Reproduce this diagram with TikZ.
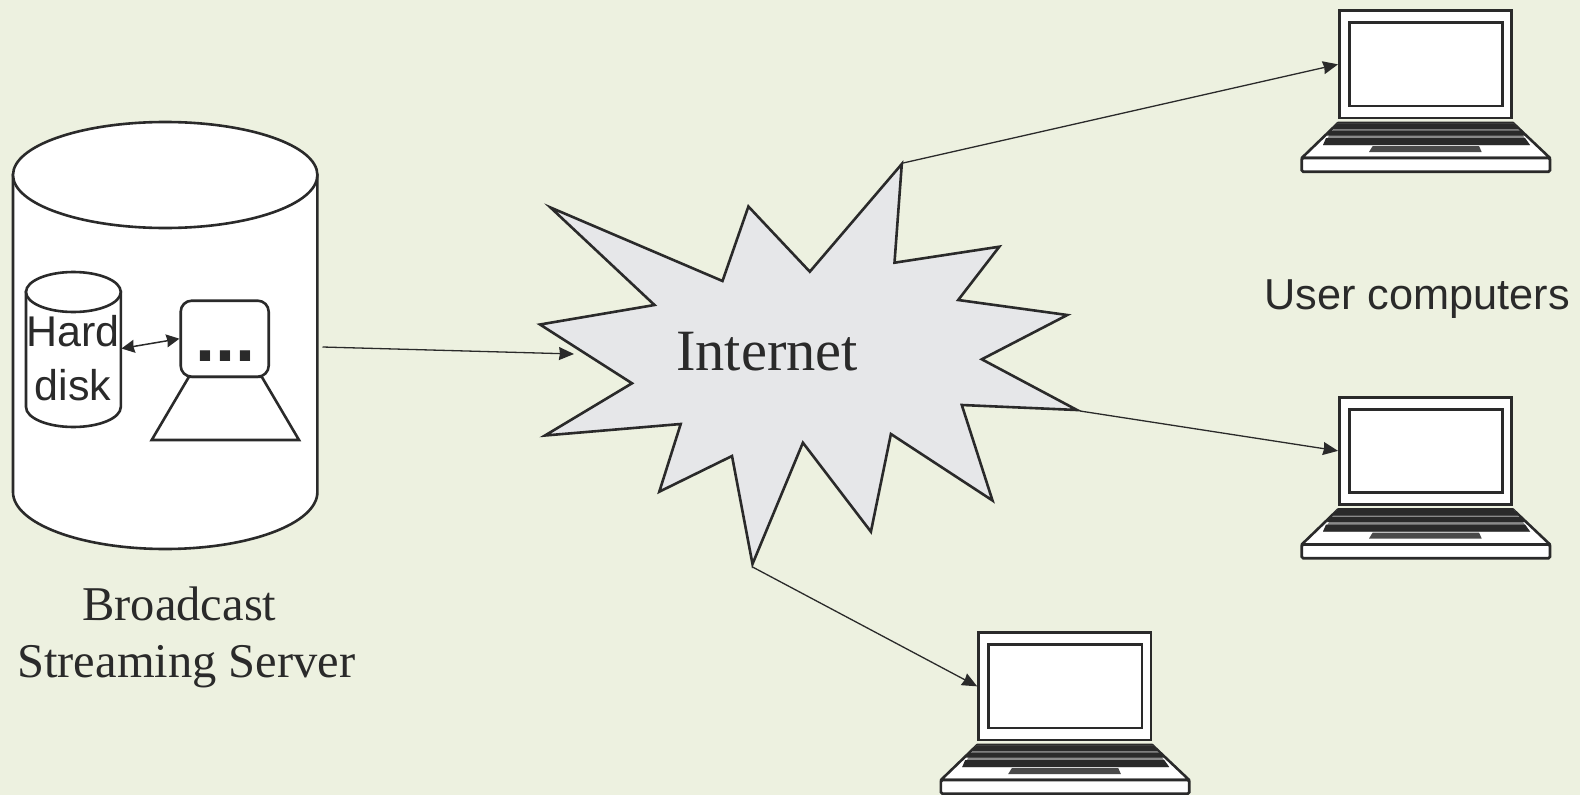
\documentclass[tikz,border=0pt]{standalone}
\usepackage{fontspec}
\setmainfont{Liberation Serif}
\newfontfamily\arialfont{Liberation Sans}
\usetikzlibrary{arrows.meta}
\definecolor{bgcol}{HTML}{EDF1E0}
\definecolor{inkcol}{HTML}{2A2A2A}
\definecolor{starcol}{HTML}{E6E7E9}
\tikzset{
  shapeline/.style={draw=inkcol,line width=2.6pt,line join=miter,miter limit=6},
  thinarrow/.style={draw=inkcol,line width=1.3pt,-{Stealth[length=15pt,width=13pt,inset=1pt]}},
  bothways/.style={draw=inkcol,line width=1.5pt,{Stealth[length=13pt,width=13pt,inset=1pt]}-{Stealth[length=13pt,width=13pt,inset=1pt]}},
  serif/.style={inner sep=0pt,anchor=base,text=inkcol},
  sans/.style={inner sep=0pt,anchor=base,text=inkcol,font=\arialfont\fontsize{43}{45}\selectfont},
  laptop/.pic={
    \path[shapeline,fill=white,line join=round]
      (1338,123) -- (1513,123) -- (1550,158) -- (1301.7,158) -- cycle;
    \path[shapeline,fill=white,rounded corners=1.5pt] (1301.7,158) rectangle (1550,171.7);
    \fill[inkcol!55!white] (1337,123.5) -- (1514,123.5) -- (1530,145) -- (1323,145) -- cycle;
    \fill[inkcol] (1337,123.5) -- (1514,123.5) -- (1519,129) -- (1332,129) -- cycle;
    \fill[inkcol] (1330,130.5) -- (1521,130.5) -- (1525,135.5) -- (1327,135.5) -- cycle;
    \fill[inkcol] (1326,138) -- (1525,138) -- (1530,145) -- (1323,145) -- cycle;
    \fill[inkcol!85!white] (1372.7,146) -- (1479,146) -- (1481.7,152) -- (1369,152) -- cycle;
    \node[shapeline,fill=white,rectangle,inner sep=0pt,minimum width=172.4pt,minimum height=107.3pt] (-lid) at (1425.5,64.35) {};
    \path[shapeline,fill=white] (1349.3,22.7) rectangle (1502.7,106);
  }
}
\begin{document}
\begin{tikzpicture}[x=1pt,y=-1pt]
\useasboundingbox[fill=bgcol] (0,0) rectangle (1580,795);

% server cylinder
\path[shapeline,fill=white] (13,175) -- (13,492) arc[x radius=152.2pt,y radius=57pt,start angle=180,end angle=360] -- (317.4,175) -- cycle;
\path[shapeline,fill=white] (165.2,175) ellipse[x radius=152.2pt,y radius=53pt];

% hard disk
\path[shapeline,fill=white] (26,292) -- (26,407) arc[x radius=47.4pt,y radius=20pt,start angle=180,end angle=360] -- (120.8,292) -- cycle;
\path[shapeline,fill=white] (73.4,292) ellipse[x radius=47.4pt,y radius=20pt];
\node[sans] (hard) at (73,346.7) {Hard};
\node[sans] (disk) at (73,400) {disk};

% processor
\path[shapeline,fill=white] (189,376.7) -- (261.7,376.7) -- (299,440) -- (151.7,440) -- cycle;
\node[shapeline,fill=white,rectangle,rounded corners=11pt,inner sep=0pt,minimum width=88pt,minimum height=76pt] (cpu) at (224.7,338.7) {};
\node[inner sep=0pt,anchor=base,text=inkcol,font=\arialfont\bfseries\fontsize{72}{74}\selectfont] (dots) at (225.7,361) {...};

\coordinate (diskport) at (121.5,348.5);
\coordinate (serverport) at (322.5,347);
\coordinate (netport) at (574,354);
\draw[bothways] (diskport) -- (cpu.west);

% cloud
\path[shapeline,fill=starcol] (550.5,207.5) -- (722.5,281) -- (748.4,206.5) -- (809.8,271.7) -- (901.8,164) -- (894.5,262.7) -- (999.3,246.7) -- (958.2,300) -- (1067.3,315) -- (981.8,359.3) -- (1077,410) -- (961.8,405) -- (992.5,500.5) -- (890.9,434) -- (870.9,531.7) -- (802.9,442.7) -- (752.5,564) -- (732,456) -- (659.3,491.7) -- (680.7,424) -- (545,435.5) -- (632,383.3) -- (540,324.5) -- (654.5,305) -- cycle;
\coordinate (tipA) at (901.8,163.3);
\coordinate (tipB) at (1080,411);
\coordinate (tipC) at (752,566.7);
\node[serif,font=\fontsize{58.5}{60}\selectfont] (net) at (767,370) {Internet};

% laptops
\pic (lapA) at (0,0) {laptop};
\pic (lapB) at (0,386.5) {laptop};
\pic (lapC) at (-360.8,622) {laptop};

% connectors
\draw[thinarrow] (serverport) -- (netport);
\draw[thinarrow] (tipA) -- (lapA-lid.west);
\draw[thinarrow] (tipB) -- (lapB-lid.west);
\draw[thinarrow] (tipC) -- (lapC-lid.west);

% labels
\node[serif,font=\fontsize{48.5}{50}\selectfont] (lab1) at (179.4,620) {Broadcast};
\node[serif,font=\fontsize{48.5}{50}\selectfont] (lab2) at (186.4,677) {Streaming Server};
\node[sans,font=\arialfont\fontsize{43.3}{45}\selectfont] (users) at (1417,309) {User computers};
\end{tikzpicture}
\end{document}
